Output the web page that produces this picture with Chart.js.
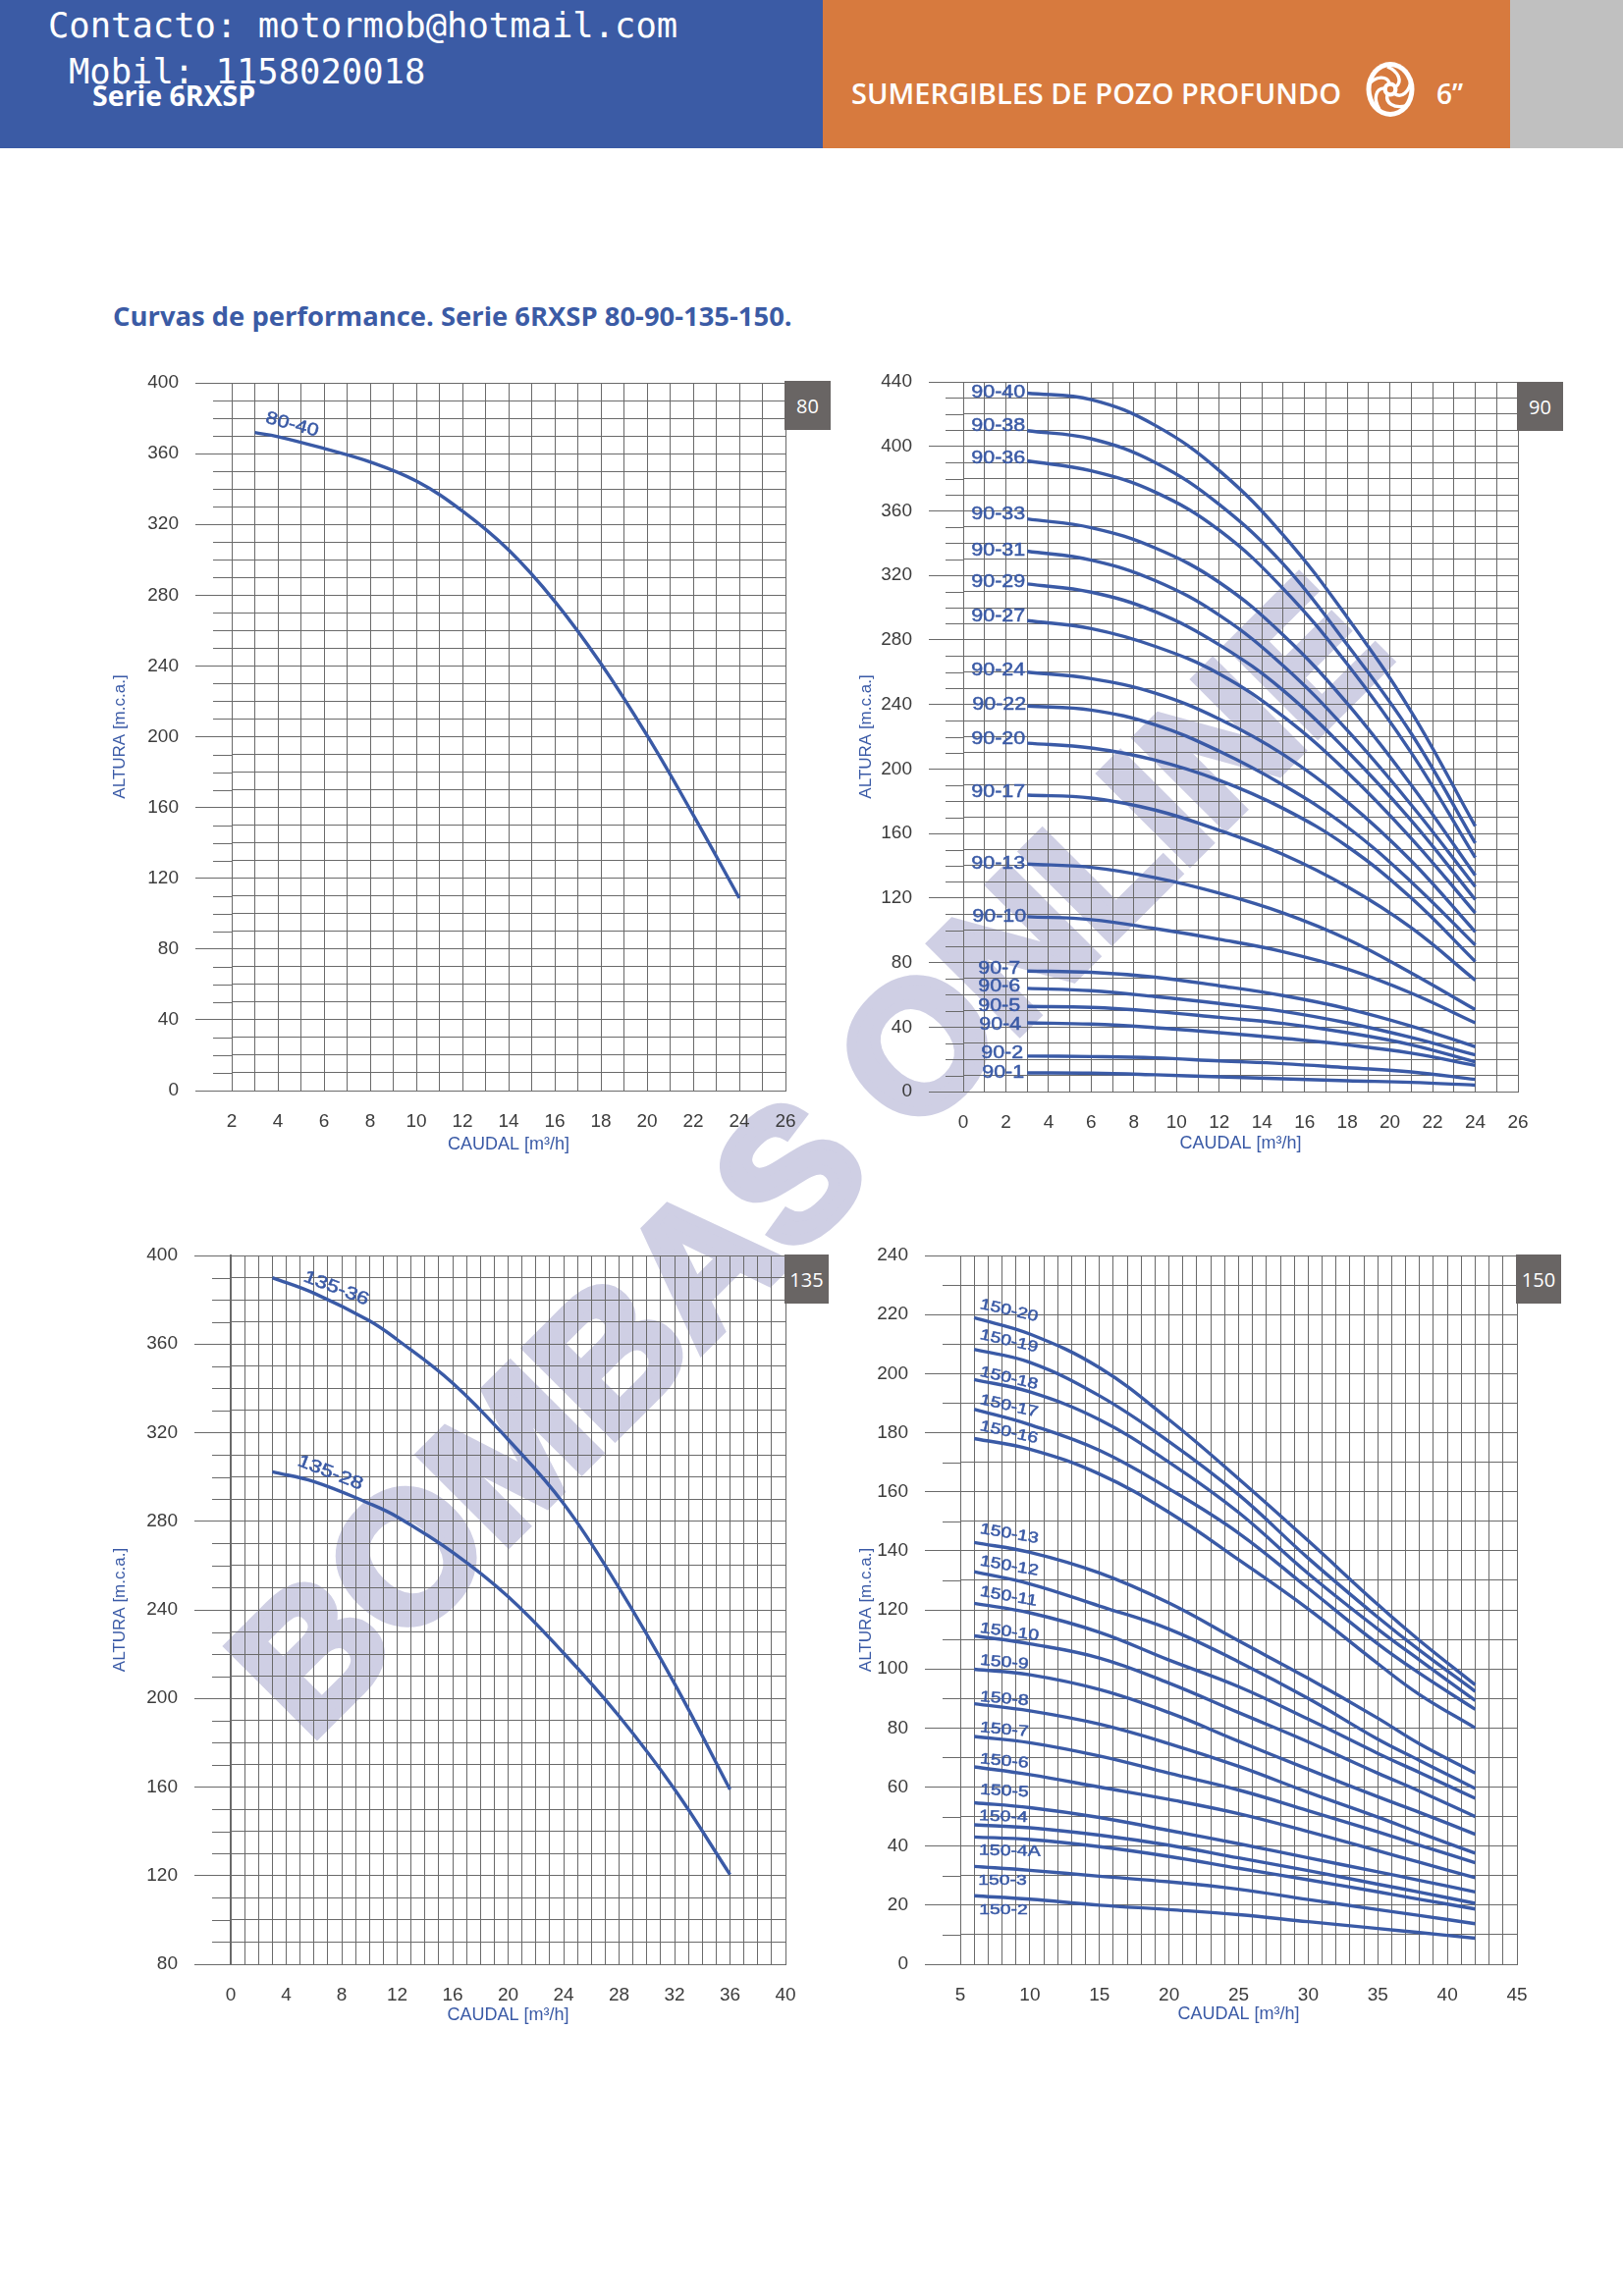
<!DOCTYPE html>
<html>
<head>
<meta charset="utf-8">
<title>Curvas de performance. Serie 6RXSP</title>
<script src="https://cdn.jsdelivr.net/npm/chart.js@4/dist/chart.umd.min.js"></script>
<style>
  html, body { margin: 0; padding: 0; background: #fff; }
  #page { position: relative; width: 1653px; height: 2339px; overflow: hidden; }
  .band { position: absolute; top: 0; height: 151px; }
  .txt { position: absolute; white-space: pre; line-height: 1; }
  .tag { position: absolute; background: #696564; color: #fff; font: 20px "Open Sans", sans-serif;
         display: flex; align-items: center; justify-content: center; }
  canvas { position: absolute; }
  #watermark { position: absolute; left: 822px; top: 1177px; font: bold 184px "Liberation Sans", sans-serif;
               color: #cfcfe4; -webkit-text-stroke: 10px #cfcfe4; white-space: pre;
               transform: translate(-50%, -50%) rotate(-45deg); }
</style>
</head>
<body>
<div id="page">
  <div class="band" style="left:0;width:838px;background:#3b5ba5"></div>
  <div class="band" style="left:838px;width:700px;background:#d77a3e"></div>
  <div class="band" style="left:1538px;width:115px;background:#c0c0c0"></div>

  <div class="txt" style="left:49px;top:5px;font:35.5px 'DejaVu Sans Mono',monospace;color:#fff">Contacto: motormob@hotmail.com</div>
  <div class="txt" style="left:70px;top:52px;font:35.5px 'DejaVu Sans Mono',monospace;color:#fff">Mobil: 1158020018</div>
  <div class="txt" style="left:94px;top:78px;font:bold 28.5px 'Open Sans',sans-serif;color:#fff">Serie 6RXSP</div>
  <div class="txt" style="left:867px;top:75px;font:600 29px 'Open Sans',sans-serif;color:#fff">SUMERGIBLES DE POZO PROFUNDO</div>
  <div class="txt" style="left:1463px;top:76px;font:600 28px 'Open Sans',sans-serif;color:#fff">6”</div>
  <svg style="position:absolute;left:1390px;top:62px" width="52" height="58" viewBox="-26 -29 52 58">
    <ellipse cx="0" cy="0" rx="24.5" ry="28" fill="#fff"/>
    <ellipse cx="0" cy="0" rx="19.5" ry="23" fill="#d77a3e"/>
    <g fill="none" stroke="#fff" stroke-width="3.4">
      <path id="blade" d="M-3 -23 C9 -18 12 -8 6 -3"/>
      <path d="M-3 -23 C9 -18 12 -8 6 -3" transform="rotate(72)"/>
      <path d="M-3 -23 C9 -18 12 -8 6 -3" transform="rotate(144)"/>
      <path d="M-3 -23 C9 -18 12 -8 6 -3" transform="rotate(216)"/>
      <path d="M-3 -23 C9 -18 12 -8 6 -3" transform="rotate(288)"/>
    </g>
    <circle cx="0" cy="0" r="7.5" fill="#fff"/>
    <circle cx="0" cy="0" r="3.2" fill="#d77a3e"/>
  </svg>

  <div class="txt" style="left:115px;top:303px;font:bold 27.4px 'Open Sans',sans-serif;color:#3b5ba5">Curvas de performance. Serie 6RXSP 80-90-135-150.</div>

  <div id="watermark">BOMBAS ONLINE</div>

  <canvas id="chart80" style="left:100px;top:370px" width="760" height="820"></canvas>
  <canvas id="chart90" style="left:860px;top:370px" width="760" height="820"></canvas>
  <canvas id="chart135" style="left:100px;top:1260px" width="760" height="820"></canvas>
  <canvas id="chart150" style="left:860px;top:1260px" width="760" height="820"></canvas>

  <div class="tag" style="left:799px;top:388px;width:47px;height:50px">80</div>
  <div class="tag" style="left:1545px;top:389px;width:47px;height:50px">90</div>
  <div class="tag" style="left:799px;top:1278px;width:45px;height:50px">135</div>
  <div class="tag" style="left:1544px;top:1278px;width:46px;height:50px">150</div>
</div>

<script>
// Values, one list per pump model
const flow80 = [3, 4, 6, 8, 10, 12, 14, 16, 18, 20, 22, 24];
const h80_40 = [371.9, 369.6, 362.9, 355.3, 344.5, 327.5, 305.5, 276.5, 241.3, 200.7, 155.8, 108.8];

const flow90 = [3, 6, 9, 12, 15, 18, 21, 24];
const h90_40 = [433, 429, 413, 385, 345, 294, 235.5, 164.5];
const h90_38 = [409.7, 404.7, 390, 364, 327, 277, 222, 154];
const h90_36 = [391, 384.8, 371.6, 348, 311.7, 265, 210, 145];
const h90_33 = [355, 349.6, 337, 315.7, 283, 240.6, 190, 134];
const h90_31 = [335, 329.5, 316.8, 295.4, 264, 224, 177.7, 127];
const h90_29 = [314.7, 309.6, 297.5, 277, 248.7, 211, 168, 119];
const h90_27 = [292, 287, 276, 259, 232.5, 198, 157, 110.7];
const h90_24 = [260, 256, 247, 231, 209, 179.6, 143, 99];
const h90_22 = [239, 236.5, 227.4, 211, 190, 164, 130, 90.8];
const h90_20 = [216, 213, 205.5, 193, 175.5, 152, 120, 80.6];
const h90_17 = [183.8, 182, 174.5, 162, 147, 127, 101.5, 69];
const h90_13 = [141, 139, 132.6, 123, 110.7, 94.5, 73.5, 50.8];
const h90_10 = [108.4, 106.6, 101, 94.4, 86.7, 76, 61, 42.6];
const h90_7 = [74.7, 73.9, 70.9, 65.6, 59.5, 51.4, 40.6, 27.8];
const h90_6 = [64, 62.5, 58.9, 54.6, 49.7, 42.6, 33.5, 22.7];
const h90_5 = [52.8, 52.2, 49.7, 46, 42.2, 36.5, 29, 18.3];
const h90_4 = [42.6, 41.8, 39.6, 36.5, 33, 29, 23.8, 16.2];
const h90_2 = [22, 21.7, 20.9, 19, 17.3, 14.8, 12.2, 7.5];
const h90_1 = [11.6, 11.4, 10.4, 9.1, 7.9, 6.7, 5.7, 4];

const flow135 = [3, 6, 10, 12, 16, 20, 24, 28, 32, 36];
const h135_36 = [390, 383, 370.5, 362, 342.4, 316.9, 288, 249.9, 206.7, 158.9];
const h135_28 = [302.3, 297.9, 288, 282, 266, 246, 220.5, 192, 159, 120.5];

const flow150 = [6, 10, 15, 20, 25, 30, 35, 38, 42];
const h150_20 = [218.9, 213.4, 202, 184.4, 164.4, 143.4, 121.8, 109.6, 94.6];
const h150_19 = [208.2, 203.8, 192.5, 177, 159, 137.5, 117.5, 106.3, 92.4];
const h150_18 = [198, 193.8, 184.4, 170, 153, 132.3, 113.5, 103, 89.3];
const h150_17 = [187.9, 182.7, 174, 161, 146, 127.3, 108.5, 98.5, 86.3];
const h150_16 = [178, 174.4, 166, 153, 137, 120.3, 101.8, 91.3, 80];
const h150_13 = [142.8, 139.5, 132.5, 122.3, 109.5, 96.8, 83.3, 74.6, 64.7];
const h150_12 = [132.9, 128.8, 121.3, 113.5, 102.4, 90, 76.2, 69, 59.5];
const h150_11 = [122.2, 119, 112.4, 103, 94, 83, 71.4, 64.9, 56.2];
const h150_10 = [111.2, 108.5, 103.7, 95.2, 85.2, 75.3, 64.7, 58.6, 50];
const h150_9 = [99.9, 98, 93, 85.2, 75.5, 66, 56.7, 51.4, 44];
const h150_8 = [88.2, 85.8, 81.3, 74.7, 67, 58.2, 49.8, 44.5, 37.6];
const h150_7 = [77.1, 75, 70.5, 64.7, 59, 52, 44.8, 40.3, 34.4];
const h150_6 = [66.8, 64.2, 60, 55.8, 51, 44.9, 38.4, 34.5, 29.3];
const h150_5 = [54.7, 53, 49.7, 45.3, 40.8, 36, 31.3, 28.4, 24.5];
const h150_4 = [47.2, 46.2, 43.7, 40.3, 36, 31.7, 27.1, 24.4, 20.6];
const h150_4A = [43.1, 42.2, 39.8, 36.5, 32.5, 28.6, 24.5, 22, 18.7];
const h150_3 = [33.1, 31.8, 29.8, 27.9, 25.4, 21.9, 18.5, 16.5, 13.7];
const h150_2 = [23.2, 22, 20, 18.5, 16.8, 14.4, 12.1, 10.7, 8.8];

const BLUE = '#3a5aa6';
const GRID = '#6a6a6a';

// Draws the short minor ticks and the model names next to each curve
const panelExtras = {
  id: 'panelExtras',
  beforeDatasetsDraw(chart, args, opts) {
    const { ctx, scales: { y }, chartArea } = chart;
    ctx.save();
    ctx.strokeStyle = GRID;
    ctx.lineWidth = 1;
    y.ticks.forEach((t, i) => {
      if (t.value % opts.majorStep === 0) return;
      const py = Math.round(y.getPixelForTick(i)) + 0.5;
      ctx.beginPath();
      ctx.moveTo(chartArea.left - opts.minorLen, py);
      ctx.lineTo(chartArea.left, py);
      ctx.stroke();
    });
    ctx.restore();
  },
  afterDatasetsDraw(chart, args, opts) {
    const { ctx, scales: { x, y } } = chart;
    ctx.save();
    ctx.fillStyle = BLUE;
    ctx.strokeStyle = BLUE;
    ctx.lineWidth = 0.5;
    ctx.font = opts.labelFont;
    ctx.textBaseline = 'middle';
    ctx.textAlign = opts.labelAlign;
    chart.data.datasets.forEach((ds, i) => {
      const first = ds.data[0];
      const place = opts.places[i];
      ctx.save();
      ctx.translate(x.getPixelForValue(first.x) + place[0], y.getPixelForValue(first.y) + place[1]);
      ctx.rotate(place[2] * Math.PI / 180);
      ctx.scale(opts.labelStretch, 1);
      ctx.fillText(ds.label, 0, 0);
      ctx.strokeText(ds.label, 0, 0);
      ctx.restore();
    });
    ctx.restore();
  }
};

// One panel of the page. The area values are page pixels relative to the canvas.
function drawPanel(id, p) {
  const canvas = document.getElementById(id);
  const H = canvas.height, W = canvas.width;
  return new Chart(canvas.getContext('2d'), {
    type: 'line',
    data: {
      datasets: p.series.map(s => ({
        label: s.name,
        data: s.values.map((v, i) => ({ x: p.flow[i], y: v })),
        borderColor: BLUE,
        borderWidth: 3.4,
        pointRadius: 0,
        fill: false,
        tension: 0.4
      }))
    },
    options: {
      responsive: false,
      animation: false,
      layout: {
        autoPadding: false,
        padding: { left: 0, top: p.area.top, right: W - p.area.right, bottom: 0 }
      },
      plugins: {
        legend: { display: false },
        tooltip: { enabled: false },
        panelExtras: {
          majorStep: p.yLabelStep,
          minorLen: p.minorLen,
          places: p.places,
          labelFont: p.labelFont,
          labelAlign: p.labelAlign,
          labelStretch: p.labelStretch
        }
      },
      scales: {
        x: {
          type: 'linear',
          min: p.xMin, max: p.xMax,
          afterFit: s => { s.height = H - p.area.bottom; s.paddingLeft = 0; s.paddingRight = 0; },
          grid: { color: GRID, lineWidth: 1, drawTicks: false },
          border: { color: GRID, width: 1 },
          ticks: {
            stepSize: 1, autoSkip: false, maxRotation: 0, padding: 20,
            font: { family: 'Liberation Sans', size: 19 }, color: '#3c3c3c',
            callback: v => ((v % p.xLabelStep === 0) ? String(v) : '')
          },
          title: {
            display: true, text: 'CAUDAL [m³/h]', color: BLUE,
            font: { family: 'Liberation Sans', size: 18 },
            padding: { top: 0, bottom: H - p.xTitleY - 11 }
          }
        },
        y: {
          min: p.yMin, max: p.yMax,
          afterFit: s => { s.width = p.area.left; s.paddingTop = 0; s.paddingBottom = 0; },
          grid: {
            color: GRID, lineWidth: 1, tickLength: p.majorLen,
            tickColor: c => ((c.tick && c.tick.value % p.yLabelStep === 0) ? GRID : 'transparent')
          },
          border: { color: GRID, width: p.yBorderWidth },
          ticks: {
            stepSize: 10, autoSkip: false, padding: 17,
            font: { family: 'Liberation Sans', size: 19 }, color: '#3c3c3c',
            callback: v => ((v % p.yLabelStep === 0) ? String(v) : '')
          },
          title: {
            display: true, text: 'ALTURA [m.c.a.]', color: BLUE,
            font: { family: 'Liberation Sans', size: 17 },
            padding: { top: 12, bottom: 0 }
          }
        }
      }
    },
    plugins: [panelExtras]
  });
}

document.addEventListener('DOMContentLoaded', function() {
  // Pump 80
  drawPanel('chart80', {
    flow: flow80,
    series: [{ name: '80-40', values: h80_40 }],
    area: { left: 136, top: 20, right: 700, bottom: 741 },
    xMin: 2, xMax: 26, xLabelStep: 2, xTitleY: 796,
    yMin: 0, yMax: 400, yLabelStep: 40,
    majorLen: 37, minorLen: 19, yBorderWidth: 1,
    places: [[38, -8, 15]],
    labelFont: '18px "Liberation Sans"', labelAlign: 'center', labelStretch: 1.2
  });

  // Pump 90
  drawPanel('chart90', {
    flow: flow90,
    series: [
      { name: '90-40', values: h90_40 }, { name: '90-38', values: h90_38 }, { name: '90-36', values: h90_36 },
      { name: '90-33', values: h90_33 }, { name: '90-31', values: h90_31 }, { name: '90-29', values: h90_29 },
      { name: '90-27', values: h90_27 }, { name: '90-24', values: h90_24 }, { name: '90-22', values: h90_22 },
      { name: '90-20', values: h90_20 }, { name: '90-17', values: h90_17 }, { name: '90-13', values: h90_13 },
      { name: '90-10', values: h90_10 }, { name: '90-7', values: h90_7 }, { name: '90-6', values: h90_6 },
      { name: '90-5', values: h90_5 }, { name: '90-4', values: h90_4 }, { name: '90-2', values: h90_2 },
      { name: '90-1', values: h90_1 }
    ],
    area: { left: 121, top: 19, right: 686, bottom: 742 },
    xMin: 0, xMax: 26, xLabelStep: 2, xTitleY: 795,
    yMin: 0, yMax: 440, yLabelStep: 40,
    majorLen: 35, minorLen: 18, yBorderWidth: 1,
    places: [[-2, -1, 0], [-2, -5, 0], [-2, -3, 0], [-2, -5, 0], [-2, -1, 0], [-2, -2, 0], [-2, -4, 0],
             [-2, -2, 0], [-1, -2, 0], [-2, -4, 0], [-2, -3, 0], [-2, -1, 0], [-1, 0, 0], [-7, -2, 0],
             [-7, -2, 0], [-7, 0, 0], [-6, 2, 0], [-4, -3, 0], [-3, 0, 0]],
    labelFont: '19px "Liberation Sans"', labelAlign: 'right', labelStretch: 1.13
  });

  // Pump 135
  drawPanel('chart135', {
    flow: flow135,
    series: [{ name: '135-36', values: h135_36 }, { name: '135-28', values: h135_28 }],
    area: { left: 135, top: 19, right: 700, bottom: 741 },
    xMin: 0, xMax: 40, xLabelStep: 4, xTitleY: 793,
    yMin: 80, yMax: 400, yLabelStep: 40,
    majorLen: 37, minorLen: 19, yBorderWidth: 2,
    places: [[65, 11, 21], [59, 1, 21]],
    labelFont: '18px "Liberation Sans"', labelAlign: 'center', labelStretch: 1.25
  });

  // Pump 150
  drawPanel('chart150', {
    flow: flow150,
    series: [
      { name: '150-20', values: h150_20 }, { name: '150-19', values: h150_19 }, { name: '150-18', values: h150_18 },
      { name: '150-17', values: h150_17 }, { name: '150-16', values: h150_16 }, { name: '150-13', values: h150_13 },
      { name: '150-12', values: h150_12 }, { name: '150-11', values: h150_11 }, { name: '150-10', values: h150_10 },
      { name: '150-9', values: h150_9 }, { name: '150-8', values: h150_8 }, { name: '150-7', values: h150_7 },
      { name: '150-6', values: h150_6 }, { name: '150-5', values: h150_5 }, { name: '150-4', values: h150_4 },
      { name: '150-4A', values: h150_4A }, { name: '150-3', values: h150_3 }, { name: '150-2', values: h150_2 }
    ],
    area: { left: 118, top: 19, right: 685, bottom: 741 },
    xMin: 5, xMax: 45, xLabelStep: 5, xTitleY: 792,
    yMin: 0, yMax: 240, yLabelStep: 20,
    majorLen: 36, minorLen: 18, yBorderWidth: 1,
    places: [[6, -14, 13], [6, -15, 13], [6, -8, 13], [6, -10, 13], [6, -13, 13], [6, -14, 10], [6, -11, 10], [6, -12, 10],
             [6, -8, 8], [6, -9, 5], [6, -7, 5], [6, -9, 5], [6, -8, 5], [6, -13, 3], [5, -9, 2],
             [5, 14, 1], [4, 14, 0], [5, 15, 0]],
    labelFont: '15.5px "Liberation Sans"', labelAlign: 'left', labelStretch: 1.25
  });
});
</script>
</body>
</html>
